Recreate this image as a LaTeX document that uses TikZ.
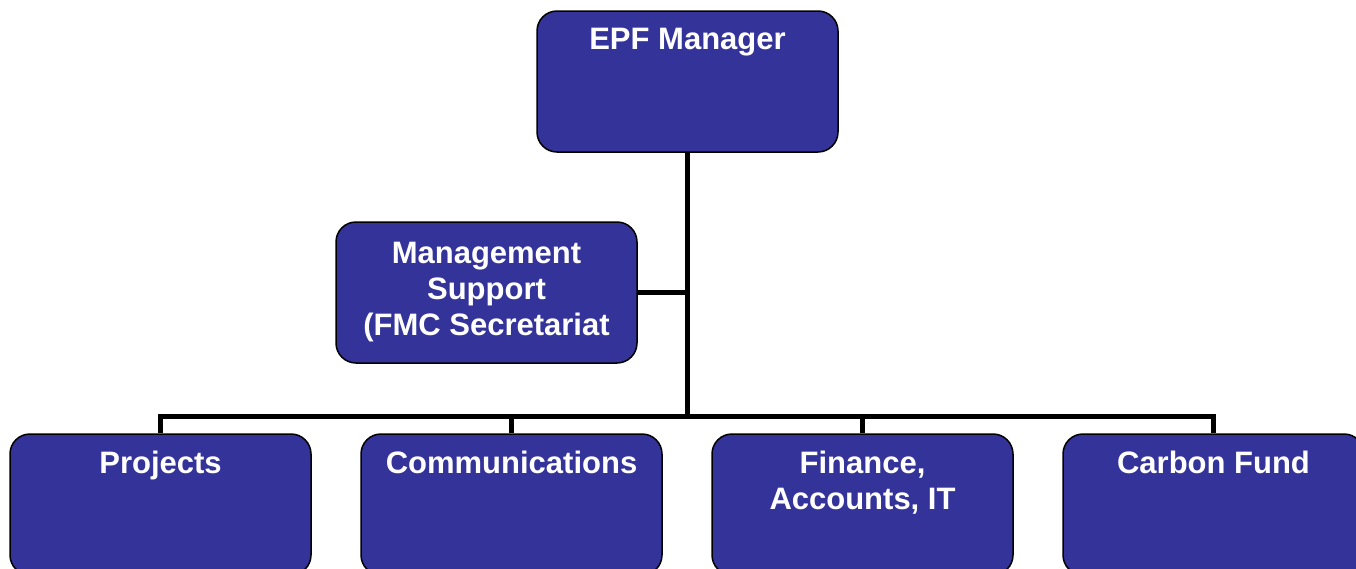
\documentclass[tikz,border=0pt]{standalone}
\usepackage{fontspec}
\setmainfont{Liberation Sans}
\definecolor{orgblue}{RGB}{51,51,153}
\begin{document}
\begin{tikzpicture}[x=1pt,y=-1pt,
        box/.style={draw=black,line width=1.5pt,fill=orgblue,rounded corners=20pt,
            minimum width=301pt,minimum height=141pt,inner sep=0pt},
        lbl/.style={anchor=north,inner sep=0pt,yshift=-18pt,text=white,align=center,
            font=\fontsize{31}{36}\selectfont\bfseries},
        wire/.style={line width=5pt}]
    \useasboundingbox (0,0) rectangle (1356,568);
    \clip (0,0) rectangle (1356,568);
    % boxes
    \node[box,label={[lbl]north:EPF Manager}] (mgr) at (687.5,81.5) {};
    \node[box,text=white,align=center,font=\fontsize{31}{36}\selectfont\bfseries] (sup) at (486.5,292.5)
        {Management\\Support\\(FMC Secretariat};
    \node[box,label={[lbl]north:Projects}] (proj) at (160.5,504.5) {};
    \node[box,label={[lbl]north:Communications}] (comm) at (511.5,504.5) {};
    \node[box,label={[lbl]north:Finance,\\Accounts, IT}] (fin) at (862.5,504.5) {};
    \node[box,label={[lbl]north:Carbon Fund}] (carb) at (1213.5,504.5) {};
    % lines
    \coordinate (bus) at (687.5,416);
    \draw[wire] (mgr.south) -- (bus);
    \draw[wire] (sup.east) -- (sup.east -| bus);
    \draw[wire] (bus) -| (proj.north);
    \draw[wire] (bus) -| (comm.north);
    \draw[wire] (bus) -| (fin.north);
    \draw[wire] (bus) -| (carb.north);
\end{tikzpicture}
\end{document}
